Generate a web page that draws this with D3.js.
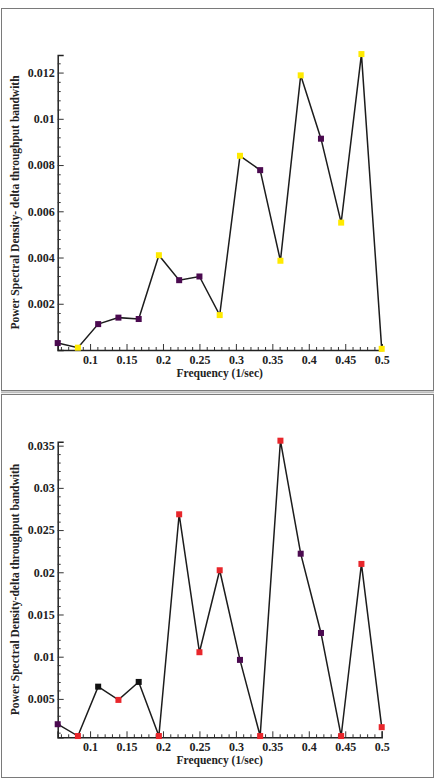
<!DOCTYPE html>
<html lang="en">

<head>
  <meta charset="UTF-8">
  <title>Power Spectral Density</title>
  <script src="https://d3js.org/d3.v7.min.js"></script>
  <style>
    body { margin: 0; background: #fff; }
    text { font-family: "Liberation Serif", "Times New Roman", serif; font-weight: bold; fill: #222; }
  </style>
</head>

<body>
  <div id="container"></div>

  <script>
    // frequencies (1/sec), same for both panels
    var freq = [0.0556, 0.0833, 0.1111, 0.1389, 0.1667, 0.1944, 0.2222, 0.25, 0.2778,
      0.3056, 0.3333, 0.3611, 0.3889, 0.4167, 0.4444, 0.4722, 0.5];

    // top panel
    var psdTop = [0.0003, 0.0001, 0.00112, 0.0014, 0.00134, 0.0041, 0.00302, 0.00318, 0.00151,
      0.0084, 0.00778, 0.00386, 0.01188, 0.00914, 0.00551, 0.0128, 0.00005];
    var colTop = ["p", "y", "p", "p", "p", "y", "p", "p", "y", "y", "p", "y", "y", "p", "y", "y", "y"];
    var yTicksTop = [0.002, 0.004, 0.006, 0.008, 0.01, 0.012];

    // bottom panel
    var psdBot = [0.002, 0.0006, 0.00645, 0.00488, 0.00701, 0.0006, 0.02687, 0.01053, 0.02024,
      0.00962, 0.0006, 0.03559, 0.0222, 0.01281, 0.0006, 0.02099, 0.00165];
    var colBot = ["p", "r", "k", "r", "k", "r", "r", "r", "r", "p", "r", "r", "p", "p", "r", "r", "r"];
    var yTicksBot = [0.005, 0.01, 0.015, 0.02, 0.025, 0.03, 0.035];

    var xTicks = [0.1, 0.15, 0.2, 0.25, 0.3, 0.35, 0.4, 0.45, 0.5];

    var palette = { p: "#4b0a50", y: "#ffea00", r: "#e8262b", k: "#111111" };

    var width = 443, height = 781;

    var svg = d3.select("#container")
      .append("svg")
      .attr("width", width)
      .attr("height", height)

    // panel frames
    svg.append("rect").attr("x", 1.5).attr("y", 8.5).attr("width", 432).attr("height", 382)
      .attr("fill", "none").attr("stroke", "#7a7a7a").attr("stroke-width", 1)
    svg.append("line").attr("x1", 1).attr("x2", 434).attr("y1", 392.2).attr("y2", 392.2)
      .attr("stroke", "#bdbdbd").attr("stroke-width", 2)
    svg.append("rect").attr("x", 1.5).attr("y", 394.5).attr("width", 432).attr("height", 383)
      .attr("fill", "none").attr("stroke", "#7a7a7a").attr("stroke-width", 1)

    function minorRange(lo, hi, step, majorStep) {
      var out = [];
      var n = Math.round((hi - lo) / step);
      for (var i = 0; i <= n; i++) {
        var v = +(lo + i * step).toFixed(6);
        if (Math.abs(v / majorStep - Math.round(v / majorStep)) > 1e-6) out.push(v);
      }
      return out;
    }

    function drawPanel(cfg) {
      var x = d3.scaleLinear().domain([freq[0], 0.5]).range([57.7, 381.7]);
      var y = d3.scaleLinear().domain(cfg.yDomain).range([cfg.bottom, cfg.top]);
      var g = svg.append("g");

      // x axis
      var xAxis = g.append("g")
        .attr("transform", "translate(0," + cfg.bottom + ")")
        .call(d3.axisBottom(x).tickValues(xTicks).tickSize(-6).tickPadding(5)
          .tickFormat(d3.format("")))
      xAxis.select(".domain").attr("stroke", "#222").attr("stroke-width", 1.5)
      xAxis.selectAll("text").attr("font-size", 12).attr("dy", "0.72em")

      g.append("g")
        .attr("transform", "translate(0," + cfg.bottom + ")")
        .call(d3.axisBottom(x).tickValues(minorRange(0.06, 0.49, 0.01, 0.05)).tickSize(-3).tickFormat(""))
        .select(".domain").remove()

      // y axis
      var yAxis = g.append("g")
        .attr("transform", "translate(57.7,0)")
        .call(d3.axisLeft(y).tickValues(cfg.yTicks).tickSize(-6).tickPadding(3)
          .tickFormat(d3.format("")))
      yAxis.select(".domain").attr("stroke", "#222").attr("stroke-width", 1.5)
      yAxis.selectAll("text").attr("font-size", 12)

      g.append("g")
        .attr("transform", "translate(57.7,0)")
        .call(d3.axisLeft(y).tickValues(cfg.yMinor).tickSize(-3).tickFormat(""))
        .select(".domain").remove()

      g.selectAll(".tick line").attr("stroke", "#333")

      // titles
      g.append("text")
        .attr("x", 219.7).attr("y", cfg.bottom + 27)
        .attr("text-anchor", "middle").attr("font-size", 11.5)
        .text("Frequency (1/sec)")

      g.append("text")
        .attr("transform", "translate(19," + ((cfg.top + cfg.bottom) / 2) + ") rotate(-90)")
        .attr("text-anchor", "middle").attr("font-size", 11.5)
        .text(cfg.yTitle)

      // line
      var line = d3.line()
        .x(function (d, i) { return x(freq[i]); })
        .y(function (d) { return y(d); })
      g.append("path")
        .attr("d", line(cfg.values))
        .attr("fill", "none")
        .attr("stroke", "#1c1c1c")
        .attr("stroke-width", 1.5)

      // markers
      g.selectAll(".mark")
        .data(cfg.values)
        .enter()
        .append("rect")
        .attr("class", "mark")
        .attr("x", function (d, i) { return x(freq[i]) - 3; })
        .attr("y", function (d) { return y(d) - 3; })
        .attr("width", 6)
        .attr("height", 6)
        .attr("fill", function (d, i) { return palette[cfg.colors[i]]; })
    }

    drawPanel({
      values: psdTop, colors: colTop, yTicks: yTicksTop,
      yMinor: minorRange(0.0004, 0.0124, 0.0004, 0.002),
      yDomain: [0, 0.01276], top: 55, bottom: 350,
      yTitle: "Power Spectral Density- delta throughput bandwith"
    });

    drawPanel({
      values: psdBot, colors: colBot, yTicks: yTicksBot,
      yMinor: minorRange(0.001, 0.035, 0.001, 0.005),
      yDomain: [0.00045, 0.03547], top: 441.7, bottom: 737.3,
      yTitle: "Power Spectral Density-delta throughput bandwith"
    });
  </script>
</body>

</html>
